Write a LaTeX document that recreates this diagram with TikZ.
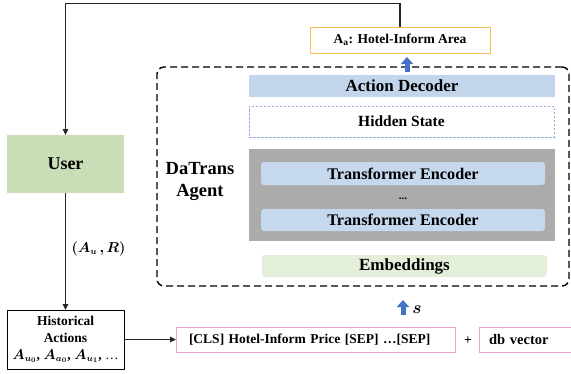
\documentclass[tikz,border=0pt]{standalone}
\usepackage{fontspec}
\setmainfont{Liberation Serif}
\usepackage{bm}
\usetikzlibrary{arrows.meta,calc}
\definecolor{aagold}{HTML}{F2C14E}
\definecolor{pinkb}{HTML}{E9A3CF}
\definecolor{decblue}{HTML}{C2D5EB}
\definecolor{hidblue}{HTML}{8FAADC}
\definecolor{encgray}{HTML}{ABABAB}
\definecolor{teblue}{HTML}{C5D8ED}
\definecolor{embgreen}{HTML}{E3EFD9}
\definecolor{usergreen}{HTML}{C9DDB6}
\definecolor{arrowblue}{HTML}{4472C4}
\definecolor{linec}{HTML}{262626}
\begin{document}
\begin{tikzpicture}[x=1pt,y=-1pt,
  plain/.style={inner sep=0pt, outer sep=0pt},
  fbig/.style={font=\bfseries\fontsize{17}{20}\selectfont},
  fmid/.style={font=\bfseries\fontsize{15.5}{18}\selectfont},
  fsmall/.style={font=\bfseries\fontsize{13.5}{17}\selectfont},
  encbox/.style={plain, fill=teblue, rounded corners=3pt, minimum width=284pt, minimum height=23pt, font=\bfseries\fontsize{16.2}{18}\selectfont},
  pinkbox/.style={plain, draw=pinkb, line width=0.8pt, anchor=west, minimum height=25pt, align=left, fsmall},
  conn/.style={draw=linec, line width=1.1pt, -{Triangle[length=6pt,width=5.5pt]}},
  blockarrow/.style={draw=arrowblue, line width=5pt, -{Triangle[length=7pt,width=12pt]}}
]
\useasboundingbox (0,0) rectangle (571,373);

% agent dashed frame
\node[plain, draw=black, line width=1.4pt, dash pattern=on 7pt off 4pt, rounded corners=7pt,
      minimum width=412pt, minimum height=219pt] (agent) at (363,176.5) {};
\node[plain, align=center, font=\bfseries\fontsize{18.5}{22}\selectfont] (agentlbl) at (200,181) {DaTrans\\Agent};

% output
\node[plain, draw=aagold, line width=0.9pt, minimum width=180pt, minimum height=26pt,
      font=\bfseries\fontsize{13.5}{16}\selectfont] (aa) at (400,40) {A\textsubscript{a}: Hotel-Inform Area};

% agent internals
\node[plain, fill=decblue, minimum width=306pt, minimum height=22pt, fbig] (dec) at (402,86) {Action Decoder};
\node[plain, draw=hidblue, line width=0.8pt, dash pattern=on 2.5pt off 1.5pt,
      minimum width=305pt, minimum height=31pt, fmid] (hid) at (401.5,121.5) {Hidden State};
\node[plain, fill=encgray, minimum width=306pt, minimum height=92pt] (gray) at (402,195) {};
\node[encbox] (te1) at (403,173.5) {Transformer Encoder};
\node[plain, font=\bfseries\fontsize{11}{11}\selectfont] (dots) at (403,199) {...};
\node[encbox, minimum height=22pt] (te2) at (403,220) {Transformer Encoder};
\node[plain, fill=embgreen, rounded corners=3pt, minimum width=285pt, minimum height=22pt, fbig] (emb) at (404.5,266) {Embeddings};

% user side
\node[plain, fill=usergreen, minimum width=117pt, minimum height=58pt,
      font=\bfseries\fontsize{18}{20}\selectfont] (user) at (65.5,164) {User};
\node[plain, draw=black, line width=0.9pt, fill=white, minimum width=117pt, minimum height=59pt,
      align=center, fsmall] (hist) at (65.5,339.5) {Historical\\Actions\\{\fontsize{13.5}{13}\selectfont$\bm{A_{u_0}}$, $\bm{A_{a_0}}$, $\bm{A_{u_1}}$, \mdseries…}};

% input
\node[pinkbox, text width=253pt, inner xsep=13pt] (cls) at (176,339.5) {[CLS] Hotel-Inform Price [SEP] …[SEP]};
\node[plain, fsmall] (plus) at (468,341) {+};
\node[pinkbox, text width=76pt, inner xsep=10pt, font=\bfseries\fontsize{14.5}{17}\selectfont] (db) at (479,339.5) {db vector};

% connectors
\coordinate (topline) at (0,3.5);
\draw[conn] (aa.north) -- (aa.north |- topline) -| (user.north);
\draw[conn] (user.south) -- node[plain, right=6pt, pos=0.48, font=\fontsize{13.5}{14}\selectfont] (aur) {$\bm{(A_u\,, R)}$} (hist.north);
\draw[conn] (hist.east |- cls.west) -- (cls.west);

\coordinate (ob) at (407,72);
\coordinate (ot) at (407,57);
\draw[blockarrow] (ob) -- (ot);
\coordinate (sb) at (403,315);
\coordinate (st) at (403,300);
\draw[blockarrow] (sb) -- (st);
\node[plain, font=\fontsize{16}{16}\selectfont] (slbl) at (417,310) {$\bm{s}$};
\end{tikzpicture}
\end{document}
